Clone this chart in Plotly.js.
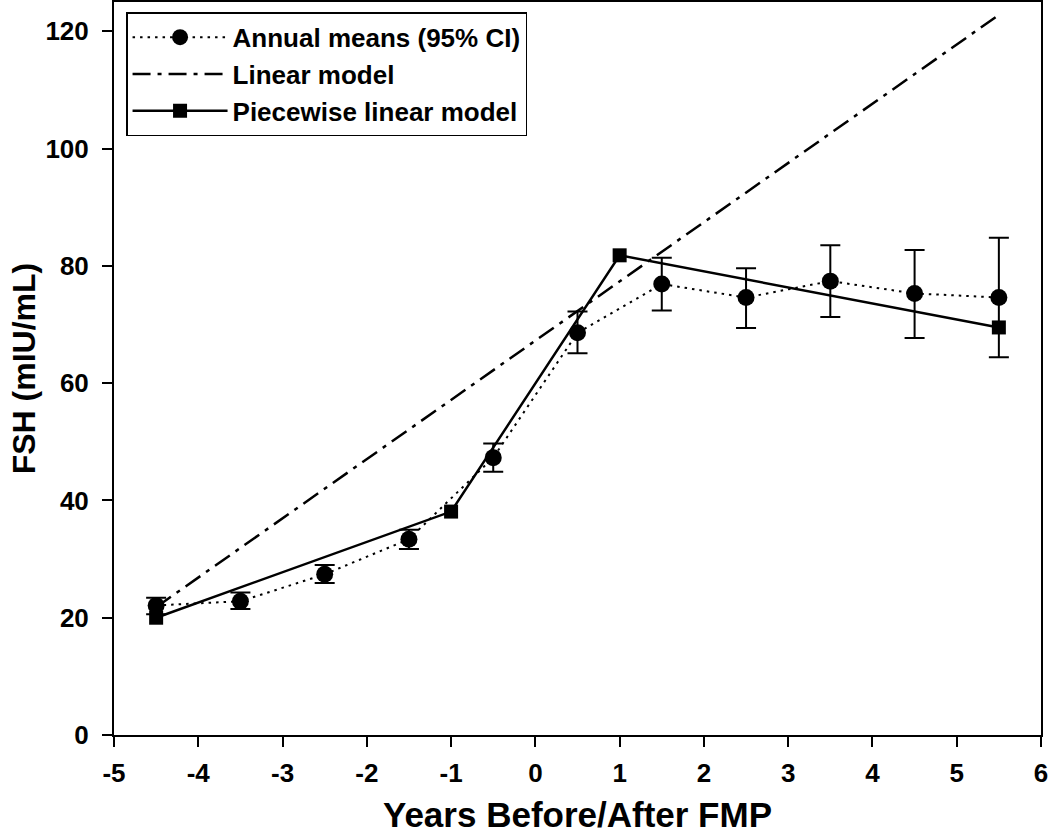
<!DOCTYPE html>
<html>
<head>
<meta charset="utf-8">
<script src="https://cdn.plot.ly/plotly-3.0.1.min.js"></script>
<style>html,body{margin:0;padding:0;background:#fff;}#chart{width:1050px;height:834px;}</style>
</head>
<body>
<div id="chart"></div>
<script>
// Annual means with 95% CI
const meanYears = [-4.5, -3.5, -2.5, -1.5, -0.5, 0.5, 1.5, 2.5, 3.5, 4.5, 5.5];
const meanFSH   = [22.1, 22.8, 27.4, 33.4, 47.3, 68.6, 76.9, 74.6, 77.4, 75.3, 74.6];
const ciUpper   = [23.4, 24.3, 29.0, 35.0, 49.7, 72.2, 81.4, 79.6, 83.5, 82.7, 84.8];
const ciLower   = [20.6, 21.5, 25.9, 31.7, 44.9, 65.1, 72.4, 69.4, 71.3, 67.7, 64.4];
// Linear model
const linYears = [-4.5, 5.5];
const linFSH   = [21.8, 122.8];
// Piecewise linear model
const pwYears = [-4.5, -1, 1, 5.5];
const pwFSH   = [20.0, 38.1, 81.8, 69.5];

const xTicks = [-5, -4, -3, -2, -1, 0, 1, 2, 3, 4, 5, 6];
const yTicks = [0, 20, 40, 60, 80, 100, 120];

const errPlus = ciUpper.map((u, i) => u - meanFSH[i]);
const errMinus = meanFSH.map((m, i) => m - ciLower[i]);

const FONT = 'Liberation Sans, Arial, sans-serif';

const traces = [
  {
    x: meanYears, y: meanFSH, type: 'scatter', mode: 'lines+markers',
    name: 'Annual means (95% CI)',
    line: {color: '#000', width: 2, dash: '2.5px,5px'},
    marker: {symbol: 'circle', size: 17, color: '#000'},
    error_y: {type: 'data', symmetric: false, array: errPlus, arrayminus: errMinus,
              color: '#000', thickness: 2, width: 10}
  },
  {
    x: linYears, y: linFSH, type: 'scatter', mode: 'lines',
    name: 'Linear model',
    line: {color: '#000', width: 2.5, dash: '18px,7px,4px,7px'}
  },
  {
    x: pwYears, y: pwFSH, type: 'scatter', mode: 'lines+markers',
    name: 'Piecewise linear model',
    line: {color: '#000', width: 2.5},
    marker: {symbol: 'square', size: 14, color: '#000'}
  }
];

const layout = {
  width: 1050, height: 834,
  margin: {l: 114, r: 9, t: 2, b: 99},
  paper_bgcolor: '#fff', plot_bgcolor: '#fff',
  font: {family: FONT, color: '#000'},
  showlegend: true,
  legend: {
    x: 0.013, y: 0.986, xanchor: 'left', yanchor: 'top',
    bgcolor: '#fff', bordercolor: '#000', borderwidth: 1.5,
    font: {family: FONT, size: 26, color: '#000', weight: 'bold'},
    tracegroupgap: 0, itemwidth: 95
  },
  xaxis: {
    range: [-5, 6], tickvals: xTicks, ticktext: xTicks.map(String),
    showgrid: false, zeroline: false,
    showline: true, linecolor: '#000', linewidth: 2, mirror: true,
    ticks: 'outside', ticklen: 10, tickwidth: 2, tickcolor: '#000', ticklabelstandoff: 4,
    tickfont: {family: FONT, size: 26, color: '#000', weight: 'bold'},
    title: {text: 'Years Before/After FMP', font: {family: FONT, size: 35, color: '#000', weight: 'bold'}, standoff: 18}
  },
  yaxis: {
    range: [0, 125], tickvals: yTicks, ticktext: yTicks.map(String),
    showgrid: false, zeroline: false,
    showline: true, linecolor: '#000', linewidth: 2, mirror: true,
    ticks: 'outside', ticklen: 10, tickwidth: 2, tickcolor: '#000', ticklabelstandoff: 8,
    tickfont: {family: FONT, size: 26, color: '#000', weight: 'bold'},
    title: {text: 'FSH (mIU/mL)', font: {family: FONT, size: 32, color: '#000', weight: 'bold'}, standoff: 0}
  }
};

Plotly.newPlot('chart', traces, layout, {displayModeBar: false, staticPlot: true});
</script>
</body>
</html>
